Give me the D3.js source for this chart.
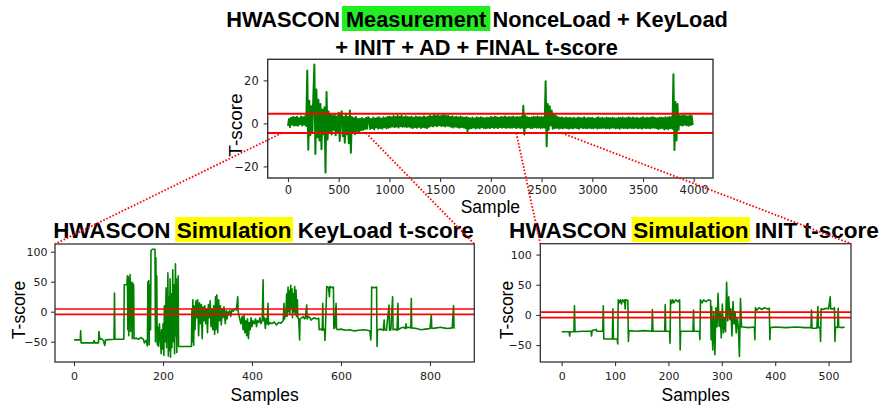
<!DOCTYPE html>
<html><head><meta charset="utf-8">
<script src="https://cdn.jsdelivr.net/npm/d3@7"></script>
<style>body{margin:0;background:#fff}text{white-space:pre}</style>
</head><body><svg id="c" width="885" height="410"></svg>
<script>
// ---------------- DATA ----------------
// Measurement t-score (top): one value every 10 samples, 0..3990
const measStep = 10;
const measValues = [
 -1.2, 2.0, -1.8, 2.6, -0.6, 3.0, -1.0, 2.7, -0.9, 3.1, -1.1, 2.4, -0.4, 3.2, -1.0, 2.9, -0.6, 3.3, -1.2, 24.6,
 -12.3, 10.5, -5.5, 8.0, -4.2, 12.5, 27.4, -14.2, 15.8, -6.5, 11.0, -8.0, 9.0, -12.0, 6.5, -5.0, 7.5, -22.8, 14.6, -7.5,
 5.5, -4.0, 4.2, -5.2, 3.5, -3.0, 4.0, -5.5, 3.2, -4.0, 5.0, -8.2, 4.0, 5.6, -6.0, 3.0, -9.0, 4.5, -5.0, 3.0,
 -9.2, 6.0, -13.6, 3.0, -4.0, 2.5, -5.0, 3.0, -3.5, 2.0, -4.0, 2.2, -3.2, 2.5, -3.0, 2.0, -2.6, 2.6, -2.4, 2.8,
 2.4, -2.6, 2.0, -2.2, 2.7, -2.8, 2.3, -1.9, 2.6, -2.4, 2.9, -2.1, 2.2, -2.5, 2.8, -1.8, 2.5, -2.3, 3.0, -2.0,
 3.2, -1.8, 2.8, -1.4, 3.4, -1.7, 3.0, -1.5, 3.5, -1.9, 3.1, -1.3, 3.6, -1.6, 2.9, -1.4, 3.3, -1.8, 3.0, -1.5,
 2.8, -1.9, 3.1, -2.2, 2.6, -1.7, 3.2, -2.0, 2.9, -1.6, 3.0, -2.1, 2.7, -1.8, 3.3, -1.9, 2.8, -2.2, 3.1, -1.6,
 3.5, -1.2, 3.2, -1.4, 3.8, -1.0, 3.4, -1.3, 3.7, -0.9, 3.3, -1.2, 3.6, -1.1, 3.9, -1.4, 3.4, -1.0, 3.6, -1.3,
 3.0, -1.6, 3.3, -1.9, 2.8, -1.5, 3.1, -1.8, 2.7, -2.0, 3.2, -1.7, 2.9, -1.9, 2.6, -2.2, 3.0, -3.6, 2.5, -2.4,
 2.4, -2.2, 2.7, -1.9, 2.3, -2.4, 2.8, -2.0, 2.5, -2.3, 2.9, -1.8, 2.6, -2.1, 2.4, -2.3, 2.7, -2.0, 2.5, -2.2,
 3.0, -1.8, 2.7, -2.1, 3.1, -1.9, 2.8, -2.2, 2.6, -1.7, 3.0, -2.0, 2.9, -1.8, 3.2, -2.1, 2.7, -1.9, 3.0, -2.0,
 2.9, -2.0, 3.2, -1.8, 2.7, -2.2, 3.0, -1.9, 2.8, -2.1, 3.1, -2.0, 8.2, -5.2, 3.4, -2.0, 2.9, -1.8, 2.6, -2.1,
 2.7, -2.2, 3.1, -1.8, 2.9, -2.0, 3.2, -1.9, 2.8, -2.1, 3.0, -2.0, 2.7, -1.9, 19.6, -10.6, 9.0, -3.0, 8.0, -1.0,
 6.0, -2.5, 4.5, -2.2, 3.5, -2.0, 3.0, -2.4, 2.6, -2.1, 2.8, -2.3, 2.4, -2.0, 2.7, -2.2, 2.5, -2.4, 2.6, -2.1,
 2.4, -2.3, 2.6, -2.0, 2.3, -2.2, 2.7, -2.4, 2.5, -1.9, 2.4, -2.2, 2.8, -2.1, 2.3, -2.3, 2.6, -2.0, 2.5, -2.2,
 2.6, -2.3, 2.2, -2.0, 2.5, -2.4, 2.8, -2.1, 2.4, -2.2, 2.6, -2.0, 2.3, -2.3, 2.7, -2.1, 2.5, -2.4, 2.4, -2.0,
 2.6, -2.0, 2.4, -2.3, 2.3, -2.1, 2.6, -2.5, 2.5, -2.0, 2.7, -2.2, 2.4, -2.1, 2.5, -2.3, 2.8, -2.0, 2.4, -2.2,
 2.7, -2.2, 2.4, -2.0, 2.6, -2.3, 2.3, -2.1, 2.5, -2.4, 2.8, -2.0, 2.4, -2.2, 2.6, -2.1, 2.5, -2.3, 2.7, -2.0,
 2.8, -2.0, 2.5, -2.2, 2.4, -2.6, 2.6, -2.3, 2.7, -2.1, 2.5, -2.8, 2.9, -2.4, 2.6, -2.7, 3.0, -2.2, 2.8, -2.5,
 22.8, -12.4, 10.0, -8.0, 9.0, -3.0, 3.6, -0.8, 3.4, -1.0, 3.8, -0.6, 3.5, -0.9, 3.2, -1.1, 3.7, -0.7, 3.4, -0.8
];

// KeyLoad simulation t-score (bottom left): [sample, t]
const keyLoadPts = [
 [0,-47],[14,-47],[15,-32],[16,-52],[44,-52],[45,-48],[47,-52],[55,-52],[56,-33],[58,-46],
 [62,-45],[66,-48],[69,-56],[71,-47],[90,-46],[91,31],[92,-46],[112,-46],[113,45],[119,45],
 [120,60],[121,-30],[122,58],[123,-40],[124,55],[125,10],[126,62],[127,-33],[128,50],[129,-20],
 [130,47],[131,-45],[132,48],[133,-10],[134,45],[135,-45],[140,-44],[145,-46],[150,-43],[156,-46],
 [158,-52],[162,-48],[165,-57],[166,50],[167,-40],[168,52],[169,-55],[170,45],[172,-30],[173,102],
 [176,104],[182,104],[183,-50],[184,90],[185,-20],[186,60],[187,-55],[188,-25],[190,-58],[192,-20],
 [194,-45],[196,-70],[197,-30],[199,-62],[200,-20],[202,-73],[203,10],[205,-50],[207,40],[208,-60],
 [209,20],[210,-40],[211,65],[212,-74],[213,25],[214,-65],[216,55],[217,-76],[219,30],[220,-60],
 [222,70],[223,-50],[225,45],[226,-70],[228,80],[229,-40],[230,55],[231,-68],[232,40],[233,-20],
 [234,60],[235,-58],[264,-58],[265,5],[266,-50],[267,20],[269,-56],[270,10],[272,-30],[274,18],
 [276,-10],[278,20],[280,-40],[282,15],[284,-20],[286,12],[288,-45],[290,8],[292,-15],[294,10],
 [296,-20],[298,5],[300,-35],[302,12],[304,-10],[306,18],[308,-25],[310,5],[312,-30],[314,10],
 [316,-38],[318,25],[319,-30],[321,28],[323,-35],[325,20],[327,-15],[329,10],[331,-22],[333,5],
 [335,-10],[337,8],[340,-20],[342,2],[344,-12],[346,0],[348,-5],[350,2],[352,-8],[355,3],
 [358,1],[362,5],[365,3],[368,25],[369,0],[372,-10],[375,-20],[378,-8],[380,-30],[382,-5],
 [384,-35],[386,-15],[388,-40],[390,-12],[392,-45],[394,-18],[396,-30],[398,-10],[400,-25],[402,-15],
 [405,-20],[408,-12],[410,-25],[412,-15],[415,-18],[418,-10],[420,-20],[423,-15],[425,53],[426,-15],
 [428,-10],[430,-28],[432,-12],[434,-20],[436,14],[437,-22],[440,-18],[445,-20],[450,-17],[455,-22],
 [460,-18],[465,-19],[470,-15],[472,14],[473,-12],[476,-5],[478,30],[479,-8],[481,41],[482,0],
 [484,35],[485,-5],[487,44],[488,5],[490,38],[491,-10],[493,30],[494,0],[496,42],[497,-5],
 [499,36],[500,-8],[502,20],[503,-10],[505,-12],[507,-47],[508,-12],[512,-10],[515,-8],[518,-12],
 [520,-10],[523,11],[524,-12],[527,-8],[530,-10],[533,-14],[536,-12],[540,-10],[545,-12],[550,-11],
 [551,-30],[555,-29],[558,-31],[559,14],[560,-30],[563,-29],[564,-48],[565,-30],[568,42],[572,40],
 [574,25],[575,42],[580,40],[583,41],[584,-28],[586,-27],[589,14],[590,-28],[592,-30],[600,-29],
 [610,-31],[620,-30],[630,-32],[640,-31],[650,-30],[660,-31],[665,-32],[667,-47],[668,-30],[669,41],
 [675,40],[680,41],[681,-58],[682,-30],[690,-29],[695,-31],[697,-14],[698,-30],[702,-31],[708,11],
 [709,-31],[712,-30],[716,25],[717,-30],[722,-29],[726,-31],[728,14],[729,-30],[735,-27],[740,-26],
 [745,-28],[746,-20],[747,-27],[752,-26],[757,-27],[758,22],[759,-27],[770,-28],[780,-30],[790,-29],
 [800,-28],[803,-6],[804,-28],[815,-27],[825,-26],[830,-27],[840,-28],[850,-27],[853,10],[854,-27],
 [856,-27]
];

// INIT simulation t-score (bottom right): [sample, t]
const initPts = [
 [0,-28],[14,-28],[15,-35],[16,-28],[23,-28],[24,15],[25,-28],[40,-27],[55,-27],[56,-35],
 [57,-26],[65,-24],[66,-27],[77,-27],[78,15],[79,-40],[95,-40],[96,10],[97,-40],[104,-40],
 [105,-48],[106,25],[108,20],[110,25],[112,18],[114,25],[116,22],[118,25],[119,10],[120,25],
 [124,24],[125,-44],[126,-26],[140,-27],[155,-26],[169,-27],[170,9],[171,-27],[185,-27],[193,-27],
 [194,17],[195,-27],[202,-27],[203,-47],[204,25],[206,19],[208,25],[210,20],[214,25],[218,22],
 [221,25],[222,-58],[223,-27],[235,-27],[246,-27],[247,8],[248,-27],[258,-27],[259,-41],[260,25],
 [263,20],[266,25],[270,22],[275,25],[279,24],[280,-41],[281,14],[283,-58],[285,5],[287,-66],
 [289,12],[291,-20],[293,36],[295,-19],[297,5],[299,-38],[301,18],[303,-30],[305,-5],[307,-28],
 [309,54],[311,-10],[313,30],[315,-8],[317,10],[319,-35],[321,22],[323,-15],[325,5],[327,-30],
 [329,-5],[331,-20],[333,-69],[335,27],[337,-20],[340,-20],[350,-21],[361,-20],[362,-41],[363,12],
 [366,8],[370,12],[375,9],[380,12],[385,10],[389,11],[390,-41],[391,-21],[400,-20],[420,-21],
 [440,-20],[455,-21],[467,-21],[468,8],[469,-22],[478,-22],[480,14],[481,-21],[484,-21],[485,-44],
 [486,10],[490,9],[495,11],[500,10],[503,30],[504,10],[509,10],[511,12],[512,-44],[513,-20],
 [517,-21],[518,11],[519,-20],[525,-21],[530,-20]
];

const thresholds = [4.5, -4.5];
const topXTicks = [0, 500, 1000, 1500, 2000, 2500, 3000, 3500, 4000];
const topYTicks = [-20, 0, 20];
const keyXTicks = [0, 200, 400, 600, 800];
const initXTicks = [0, 100, 200, 300, 400, 500];
const simYTicks = [-50, 0, 50, 100];
// zoom connectors: start points in top-chart data coords
const connectorFrom = [[-60, -4.5], [770, -4.5], [2250, -4.5], [2700, -4.5]];

// ---------------- DRAWING ----------------
const svg = d3.select("#c");
svg.append("rect").attr("width", 885).attr("height", 410).attr("fill", "#fff");

const measData = measValues.map((v, i) => [i * measStep, v]);
const fmt = d => (d < 0 ? "\u2212" + Math.abs(d) : String(d));

function panel(o) {
  const x = d3.scaleLinear().domain(o.xd).range([o.l, o.r]);
  const y = d3.scaleLinear().domain(o.yd).range([o.b, o.t]);
  const g = svg.append("g");
  const id = "clip" + o.id;
  g.append("clipPath").attr("id", id).append("rect")
    .attr("x", o.l).attr("y", o.t).attr("width", o.r - o.l).attr("height", o.b - o.t);
  const pg = g.append("g").attr("clip-path", `url(#${id})`);
  pg.append("path").datum(o.data)
    .attr("d", d3.line().x(d => x(d[0])).y(d => y(d[1])))
    .attr("fill", "none").attr("stroke", "#008000").attr("stroke-width", o.lw)
    .attr("stroke-linejoin", "round");
  pg.selectAll("line.th").data(thresholds).join("line").attr("class", "th")
    .attr("x1", o.l).attr("x2", o.r).attr("y1", d => y(d)).attr("y2", d => y(d))
    .attr("stroke", "#ff0000").attr("stroke-width", o.rw);
  const ax = g.append("g").attr("transform", `translate(0,${o.b})`)
    .call(d3.axisBottom(x).tickValues(o.xt).tickFormat(fmt).tickSize(4).tickSizeOuter(0).tickPadding(o.xpad));
  const ay = g.append("g").attr("transform", `translate(${o.l},0)`)
    .call(d3.axisLeft(y).tickValues(o.yt).tickFormat(fmt).tickSize(4).tickSizeOuter(0).tickPadding(o.ypad));
  [ax, ay].forEach(a => {
    a.select(".domain").remove();
    a.selectAll("line").attr("stroke", "#333").attr("stroke-width", 1.1);
    a.selectAll("text").attr("font-family", "DejaVu Sans").attr("font-size", o.tfs).attr("fill", "#222");
  });
  g.append("rect").attr("x", o.l).attr("y", o.t).attr("width", o.r - o.l).attr("height", o.b - o.t)
    .attr("fill", "none").attr("stroke", "#333").attr("stroke-width", o.sw);
  g.append("text").attr("x", (o.l + o.r) / 2).attr("y", o.xlY).attr("text-anchor", "middle")
    .attr("font-family", "Liberation Sans, Arial, sans-serif").attr("font-size", o.lfs).text(o.xlab);
  g.append("text").attr("transform", `translate(${o.ylX},${o.ylY}) rotate(-90)`).attr("text-anchor", "middle")
    .attr("font-family", "Liberation Sans, Arial, sans-serif").attr("font-size", o.ylfs).text("T-score");
  return { x, y, o };
}

const pTop = panel({ id: "t", xd: [-200, 4190], yd: [-25.4, 29.8], l: 267.7, r: 713, t: 59.3, b: 178,
  data: measData, lw: 2, rw: 2, xt: topXTicks, yt: topYTicks, xpad: 4, ypad: 5, tfs: 11.5, sw: 1.4,
  xlab: "Sample", xlY: 213, lfs: 17.5, ylX: 242, ylY: 125, ylfs: 19 });
const pKey = panel({ id: "k", xd: [-42.7, 899.6], yd: [-83.8, 112.8], l: 55, r: 474.3, t: 244, b: 362,
  data: keyLoadPts, lw: 1.6, rw: 1.7, xt: keyXTicks, yt: simYTicks, xpad: 6, ypad: 3.5, tfs: 11, sw: 1.3,
  xlab: "Samples", xlY: 400.5, lfs: 17.5, ylX: 25, ylY: 310, ylfs: 17.5 });
const pInit = panel({ id: "i", xd: [-40, 542], yd: [-78, 118], l: 540.3, r: 851, t: 243.7, b: 362,
  data: initPts, lw: 1.6, rw: 1.7, xt: initXTicks, yt: simYTicks, xpad: 6, ypad: 4.5, tfs: 11, sw: 1.3,
  xlab: "Samples", xlY: 400.5, lfs: 17.5, ylX: 513, ylY: 310, ylfs: 17.5 });

function title(parts, cx, baseline, targetW, hlColor, padX, up, down, fsOverride) {
  const t = svg.append("text").attr("y", baseline)
    .attr("font-family", "Liberation Sans, Arial, sans-serif").attr("font-weight", "bold")
    .attr("font-size", 20).attr("fill", "#000");
  parts.forEach(p => t.append("tspan").text(p));
  let fs = fsOverride;
  if (!fs) { fs = 20 * targetW / t.node().getComputedTextLength(); }
  t.attr("font-size", fs);
  const total = t.node().getComputedTextLength();
  const x0 = cx - total / 2;
  t.attr("x", x0);
  if (parts.length > 1) {
    const n = t.node();
    const off = n.getSubStringLength(0, parts[0].length);
    const w = n.getSubStringLength(parts[0].length, parts[1].length);
    svg.insert("rect", () => n).attr("x", x0 + off - padX).attr("y", baseline - up)
      .attr("width", w + 2 * padX).attr("height", up + down).attr("fill", hlColor);
  }
  return fs;
}
const fsTop = title(["HWASCON ", "Measurement", " NonceLoad + KeyLoad"], 477, 26.7, 502, "#22ee22", 4, 20.7, 4.3);
title(["+ INIT + AD + FINAL t-score"], 476.5, 55, 283, null, 0, 0, 0, fsTop);
title(["HWASCON ", "Simulation", " KeyLoad t-score"], 263.5, 238, 421, "#ffff00", 1.5, 21, 4);
title(["HWASCON ", "Simulation", " INIT t-score"], 694, 238, 370, "#ffff00", 1.5, 21, 4);

const kx = pKey.x.domain(), ky = pKey.y.domain(), ix = pInit.x.domain(), iy = pInit.y.domain();
const connectorTo = [
  [pKey.x(kx[0]), pKey.y(ky[1])], [pKey.x(kx[1]), pKey.y(ky[1])],
  [pInit.x(ix[0]), pInit.y(iy[1])], [pInit.x(ix[1]), pInit.y(iy[1])]
];
svg.append("g").selectAll("line").data(connectorFrom).join("line")
  .attr("x1", d => pTop.x(d[0])).attr("y1", d => pTop.y(d[1]))
  .attr("x2", (d, i) => connectorTo[i][0]).attr("y2", (d, i) => connectorTo[i][1])
  .attr("stroke", "#ff0000").attr("stroke-width", 1.8).attr("stroke-dasharray", "1.6,1.8");
</script></body></html>
